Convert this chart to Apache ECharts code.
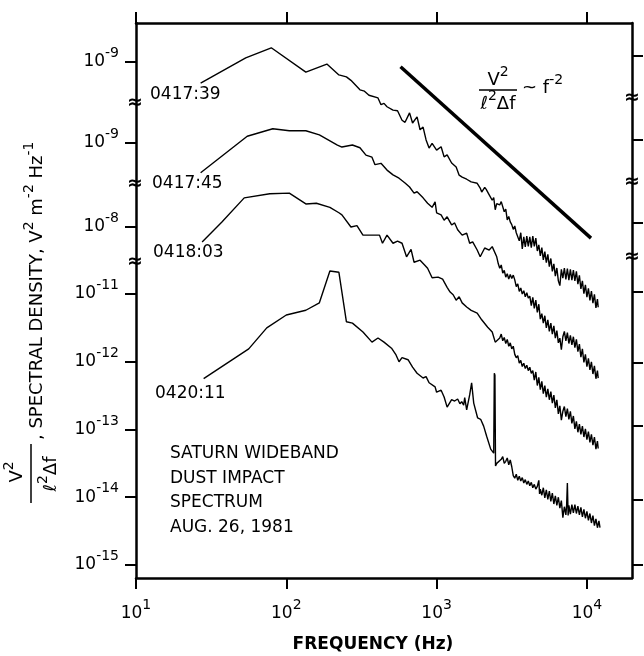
<!DOCTYPE html>
<html>
<head>
<meta charset="utf-8">
<script src="https://cdn.jsdelivr.net/npm/echarts@6/dist/echarts.min.js"></script>
<style>
  html, body { margin: 0; padding: 0; background: #fff; }
  #chart { width: 644px; height: 656px; }
</style>
</head>
<body>
<div id="chart"></div>
<script>
// readings, in decades: [log10 frequency (Hz), log10 V^2 m^-2 Hz^-1]
const spec041739 = [
  [1.43,-9.31],[1.73,-8.94],[1.90,-8.79],[2.13,-9.15],[2.27,-9.03],[2.35,-9.19],[2.40,-9.22],[2.43,-9.27],
  [2.49,-9.41],[2.52,-9.43],[2.55,-9.49],[2.61,-9.53],[2.63,-9.63],[2.65,-9.61],[2.67,-9.66],[2.71,-9.71],
  [2.74,-9.72],[2.77,-9.86],[2.79,-9.89],[2.82,-9.75],[2.84,-9.90],[2.87,-9.81],[2.89,-10.00],[2.91,-9.96],
  [2.93,-10.15],[2.95,-10.27],[2.97,-10.20],[3.00,-10.30],[3.03,-10.25],[3.05,-10.40],[3.07,-10.37],[3.10,-10.49],
  [3.13,-10.55],[3.15,-10.67],[3.17,-10.70],[3.20,-10.73],[3.23,-10.77],[3.27,-10.79],[3.29,-10.86],[3.30,-10.92],
  [3.32,-10.85],[3.33,-10.88],[3.35,-10.96],[3.37,-11.04],[3.38,-11.00],[3.39,-11.18],[3.40,-11.09],[3.42,-11.11],
  [3.43,-11.06],[3.45,-11.21],[3.46,-11.17],[3.47,-11.33],[3.48,-11.28],[3.49,-11.36],[3.50,-11.40],[3.51,-11.47],
  [3.52,-11.42],[3.53,-11.52],[3.54,-11.50],[3.55,-11.64],[3.56,-11.52],[3.57,-11.76],[3.58,-11.58],[3.59,-11.73],
  [3.60,-11.57],[3.61,-11.72],[3.62,-11.58],[3.63,-11.74],[3.64,-11.57],[3.65,-11.72],[3.66,-11.60],[3.67,-11.79],
  [3.68,-11.70],[3.69,-11.86],[3.70,-11.74],[3.71,-11.92],[3.72,-11.80],[3.73,-11.96],[3.74,-11.84],[3.75,-12.02],
  [3.76,-11.90],[3.77,-12.09],[3.78,-11.98],[3.79,-12.16],[3.80,-12.04],[3.81,-12.23],[3.82,-12.30],[3.83,-12.06],
  [3.84,-12.19],[3.85,-12.04],[3.86,-12.21],[3.87,-12.05],[3.88,-12.22],[3.89,-12.06],[3.90,-12.22],[3.91,-12.07],
  [3.92,-12.23],[3.93,-12.09],[3.94,-12.28],[3.95,-12.15],[3.96,-12.35],[3.97,-12.23],[3.98,-12.42],[3.99,-12.29],
  [4.00,-12.47],[4.01,-12.34],[4.02,-12.52],[4.03,-12.38],[4.04,-12.56],[4.05,-12.43],[4.06,-12.63],[4.07,-12.50],
  [4.075,-12.62]
];

const spec041745 = [
  [1.43,-9.44],[1.74,-8.90],[1.91,-8.79],[2.02,-8.82],[2.13,-8.82],[2.22,-8.88],[2.34,-9.03],[2.37,-9.06],
  [2.44,-9.03],[2.49,-9.07],[2.53,-9.18],[2.57,-9.21],[2.59,-9.32],[2.63,-9.30],[2.67,-9.40],[2.71,-9.47],
  [2.75,-9.52],[2.79,-9.59],[2.82,-9.65],[2.85,-9.74],[2.87,-9.72],[2.91,-9.81],[2.94,-9.89],[2.97,-9.95],
  [2.99,-9.87],[3.00,-10.03],[3.03,-10.06],[3.05,-10.14],[3.07,-10.09],[3.10,-10.21],[3.12,-10.18],[3.14,-10.28],
  [3.17,-10.36],[3.20,-10.33],[3.22,-10.48],[3.24,-10.46],[3.27,-10.58],[3.29,-10.68],[3.32,-10.55],[3.35,-10.58],
  [3.37,-10.53],[3.40,-10.68],[3.41,-10.78],[3.42,-10.85],[3.43,-10.80],[3.44,-10.92],[3.45,-10.88],[3.46,-10.98],
  [3.47,-10.93],[3.48,-11.01],[3.49,-10.94],[3.50,-11.00],[3.51,-10.95],[3.52,-11.02],[3.53,-11.12],[3.54,-11.08],
  [3.55,-11.19],[3.56,-11.14],[3.57,-11.23],[3.58,-11.18],[3.59,-11.27],[3.60,-11.21],[3.61,-11.29],[3.62,-11.26],
  [3.63,-11.40],[3.64,-11.28],[3.65,-11.44],[3.66,-11.32],[3.67,-11.50],[3.68,-11.38],[3.69,-11.60],[3.70,-11.52],
  [3.71,-11.66],[3.72,-11.55],[3.73,-11.73],[3.74,-11.61],[3.75,-11.78],[3.76,-11.66],[3.77,-11.82],[3.78,-11.70],
  [3.79,-11.88],[3.80,-11.77],[3.81,-11.95],[3.82,-11.88],[3.83,-12.05],[3.84,-11.86],[3.85,-11.78],[3.86,-11.92],
  [3.87,-11.80],[3.88,-11.96],[3.89,-11.84],[3.90,-11.98],[3.91,-11.86],[3.92,-12.02],[3.93,-11.90],[3.94,-12.08],
  [3.95,-11.97],[3.96,-12.16],[3.97,-12.04],[3.98,-12.24],[3.99,-12.12],[4.00,-12.30],[4.01,-12.18],[4.02,-12.35],
  [4.03,-12.23],[4.04,-12.41],[4.05,-12.29],[4.06,-12.48],[4.07,-12.36],[4.075,-12.47]
];

const spec041803 = [
  [1.44,-8.22],[1.57,-7.93],[1.72,-7.57],[1.89,-7.51],[2.02,-7.50],[2.13,-7.66],[2.20,-7.65],[2.29,-7.71],
  [2.35,-7.79],[2.37,-7.82],[2.43,-8.00],[2.47,-7.98],[2.51,-8.12],[2.62,-8.12],[2.64,-8.24],[2.67,-8.12],
  [2.71,-8.24],[2.74,-8.21],[2.77,-8.24],[2.80,-8.44],[2.83,-8.33],[2.85,-8.52],[2.89,-8.49],[2.92,-8.56],
  [2.94,-8.61],[2.97,-8.75],[3.01,-8.74],[3.04,-8.77],[3.07,-8.89],[3.09,-8.96],[3.11,-9.00],[3.13,-9.08],
  [3.15,-9.03],[3.17,-9.12],[3.20,-9.18],[3.23,-9.23],[3.27,-9.27],[3.30,-9.37],[3.34,-9.48],[3.37,-9.55],
  [3.39,-9.70],[3.42,-9.64],[3.43,-9.58],[3.44,-9.68],[3.45,-9.63],[3.46,-9.72],[3.47,-9.66],[3.48,-9.76],
  [3.49,-9.71],[3.50,-9.80],[3.51,-9.76],[3.52,-9.88],[3.53,-9.93],[3.54,-9.90],[3.55,-10.01],[3.56,-9.97],
  [3.57,-10.06],[3.58,-10.01],[3.59,-10.09],[3.60,-10.04],[3.61,-10.12],[3.62,-10.07],[3.63,-10.16],[3.64,-10.12],
  [3.65,-10.26],[3.66,-10.14],[3.67,-10.34],[3.68,-10.22],[3.69,-10.40],[3.70,-10.28],[3.71,-10.46],[3.72,-10.34],
  [3.73,-10.51],[3.74,-10.39],[3.75,-10.55],[3.76,-10.43],[3.77,-10.60],[3.78,-10.48],[3.79,-10.67],[3.80,-10.55],
  [3.81,-10.76],[3.82,-10.64],[3.83,-10.85],[3.84,-10.72],[3.85,-10.65],[3.86,-10.80],[3.87,-10.68],[3.88,-10.84],
  [3.89,-10.72],[3.90,-10.90],[3.91,-10.79],[3.92,-10.98],[3.93,-10.87],[3.94,-11.03],[3.95,-10.91],[3.96,-11.06],
  [3.97,-10.94],[3.98,-11.10],[3.99,-10.98],[4.00,-11.14],[4.01,-11.02],[4.02,-11.18],[4.03,-11.06],[4.04,-11.22],
  [4.05,-11.10],[4.06,-11.28],[4.07,-11.16],[4.075,-11.27]
];

const spec042011 = [
  [1.45,-12.25],[1.75,-11.81],[1.87,-11.50],[2.00,-11.31],[2.13,-11.24],[2.22,-11.13],[2.29,-10.66],[2.35,-10.68],
  [2.40,-11.41],[2.44,-11.43],[2.51,-11.56],[2.57,-11.71],[2.61,-11.65],[2.65,-11.71],[2.70,-11.80],[2.73,-11.90],
  [2.75,-12.00],[2.77,-11.94],[2.81,-11.97],[2.84,-12.08],[2.87,-12.17],[2.91,-12.24],[2.93,-12.22],[2.95,-12.31],
  [2.99,-12.37],[3.00,-12.45],[3.03,-12.42],[3.05,-12.52],[3.07,-12.67],[3.10,-12.56],[3.12,-12.58],[3.14,-12.55],
  [3.155,-12.62],[3.167,-12.59],[3.18,-12.64],[3.187,-12.53],[3.20,-12.71],[3.22,-12.49],[3.233,-12.31],[3.247,-12.61],
  [3.273,-12.83],[3.293,-12.85],[3.313,-12.95],[3.333,-13.10],[3.36,-13.29],[3.38,-13.35],[3.384,-12.17],[3.388,-12.20],
  [3.392,-13.54],[3.40,-13.50],[3.43,-13.44],[3.44,-13.40],[3.45,-13.50],[3.46,-13.47],[3.47,-13.42],[3.48,-13.52],
  [3.49,-13.45],[3.50,-13.55],[3.51,-13.68],[3.52,-13.72],[3.53,-13.66],[3.54,-13.75],[3.55,-13.69],[3.56,-13.76],
  [3.57,-13.71],[3.58,-13.79],[3.59,-13.74],[3.60,-13.81],[3.61,-13.76],[3.62,-13.83],[3.63,-13.78],[3.64,-13.86],
  [3.65,-13.81],[3.66,-13.88],[3.67,-13.84],[3.68,-13.75],[3.685,-13.95],[3.69,-13.88],[3.70,-13.97],[3.71,-13.86],
  [3.72,-14.01],[3.73,-13.89],[3.74,-14.03],[3.75,-13.91],[3.76,-14.06],[3.77,-13.94],[3.78,-14.10],[3.79,-13.98],
  [3.80,-14.12],[3.81,-14.00],[3.82,-14.16],[3.83,-14.05],[3.84,-14.30],[3.85,-14.14],[3.86,-14.26],[3.865,-14.12],
  [3.87,-13.79],[3.875,-14.27],[3.88,-14.12],[3.89,-14.25],[3.90,-14.11],[3.91,-14.23],[3.92,-14.11],[3.93,-14.24],
  [3.94,-14.13],[3.95,-14.26],[3.96,-14.15],[3.97,-14.29],[3.98,-14.18],[3.99,-14.31],[4.00,-14.21],[4.01,-14.34],
  [4.02,-14.24],[4.03,-14.38],[4.04,-14.27],[4.05,-14.42],[4.06,-14.32],[4.07,-14.45],[4.08,-14.35],[4.087,-14.45]
];

// f^-2 reference line, in the units of the 0417:39 scale
const slopeLine = [[2.76,-9.07],[4.027,-11.60]];

const curveNames = ["0417:39", "0417:45", "0418:03", "0420:11"];
const curves = [spec041739, spec041745, spec041803, spec042011];

// each curve has its own offset scale (broken axis); top of plot in decades
const axisTops = [-8.424, -7.229, -4.989, -7.0];
const plotDecades = 8.192;
const leftTickExps = [[-9], [-9], [-8], [-11, -12, -13, -14, -15]];
const rightTickExps = [-7.49, -8.73, -9.95, -10.96, -12.02, -12.95, -14.03, -15.0];
const freqExps = [1, 2, 3, 4];
const noteLines = ["SATURN WIDEBAND", "DUST IMPACT", "SPECTRUM", "AUG. 26, 1981"];

const FONT = "'DejaVu Sans', sans-serif";
const INK = "#000";

const rich = {
  b: { fontSize: 17, fontFamily: FONT, color: INK },
  s: { fontSize: 14, fontFamily: FONT, color: INK, padding: [0, 0, 17, 0] },
};
const richText = {
  b: { fontSize: 18, fontFamily: FONT, fill: INK },
  s: { fontSize: 14, fontFamily: FONT, fill: INK, padding: [0, 0, 16, 0] },
};
const pow10 = (v) => `{b|10}{s|${v}}`;

const axisLine = { show: true, onZero: false, lineStyle: { color: INK, width: 2.5 } };
const tickStyle = { color: INK, width: 2 };

const yAxes = axisTops.map((top, i) => ({
  type: "value",
  position: "left",
  min: top - plotDecades,
  max: top,
  axisLine: Object.assign({}, axisLine, { show: i === 3 }),
  axisTick: { show: true, length: 11, lineStyle: tickStyle, customValues: leftTickExps[i] },
  axisLabel: { customValues: leftTickExps[i], formatter: pow10, rich, margin: 17 },
  splitLine: { show: false },
}));
yAxes.push({
  type: "value",
  position: "right",
  min: axisTops[3] - plotDecades,
  max: axisTops[3],
  axisLine,
  axisTick: { show: true, length: 11, lineStyle: tickStyle, customValues: rightTickExps },
  axisLabel: { show: false },
  splitLine: { show: false },
});

const xBase = {
  type: "value",
  min: 1,
  max: 4.3,
  axisLine,
  axisTick: { show: true, length: 11, lineStyle: tickStyle, customValues: freqExps },
  splitLine: { show: false },
};

const txt = (x, y, text, extra) => ({
  type: "text", x, y, silent: true,
  style: Object.assign({ text, fill: INK, fontSize: 17, fontFamily: FONT, verticalAlign: "middle" }, extra),
});
const bar = (x1, y1, x2, y2, w) => ({
  type: "line", silent: true, shape: { x1, y1, x2, y2 }, style: { stroke: INK, lineWidth: w },
});
const brk = (x, y) => txt(x, y, "≈", { align: "center", fontSize: 19, fontWeight: "bold" });

const graphic = [
  txt(150, 95, curveNames[0]),
  txt(152, 184, curveNames[1]),
  txt(153, 253, curveNames[2]),
  txt(155, 394, curveNames[3]),
  txt(170, 454, noteLines[0]),
  txt(170, 479, noteLines[1]),
  txt(170, 503, noteLines[2]),
  txt(170, 528, noteLines[3]),
  // axis break marks
  brk(135, 103), brk(135, 184), brk(135, 262),
  brk(632, 98), brk(632, 182), brk(632, 257),
  // slope annotation
  txt(498, 80, "{b|V}{s|2}", { align: "center", rich: richText }),
  bar(479, 90, 517, 90, 1.5),
  txt(498, 104, "{b|ℓ}{s|2}{b|Δf}", { align: "center", rich: richText }),
  txt(522, 88, "{b|~ f}{s|-2}", { align: "left", rich: richText }),
  // y title
  Object.assign(txt(17, 472, "{b|V}{s|2}", { align: "center", rich: richText }), { rotation: Math.PI / 2 }),
  bar(31, 444, 31, 503, 1.5),
  Object.assign(txt(51, 474, "{b|ℓ}{s|2}{b|Δf}", { align: "center", rich: richText }), { rotation: Math.PI / 2 }),
  Object.assign(
    txt(37, 440, "{b|, SPECTRAL DENSITY, V}{s|2}{b| m}{s|-2}{b| Hz}{s|-1}", { align: "left", rich: richText }),
    { rotation: Math.PI / 2 }
  ),
  // x title
  txt(373, 645, "FREQUENCY (Hz)", { align: "center", fontSize: 17, fontWeight: "bold" }),
];

const series = curves.map((data, i) => ({
  name: curveNames[i],
  type: "line",
  xAxisIndex: 0,
  yAxisIndex: i,
  data,
  showSymbol: false,
  silent: true,
  lineStyle: { color: INK, width: 1.4 },
}));
series.push({
  type: "line",
  xAxisIndex: 0,
  yAxisIndex: 0,
  data: slopeLine,
  showSymbol: false,
  silent: true,
  lineStyle: { color: INK, width: 3.5 },
});

const chart = echarts.init(document.getElementById("chart"), null, { renderer: "canvas" });
chart.setOption({
  backgroundColor: "#fff",
  animation: false,
  textStyle: { fontFamily: FONT, color: INK },
  grid: { left: 136, right: 12, top: 23, bottom: 78, containLabel: false, outerBoundsMode: "none" },
  xAxis: [
    Object.assign({}, xBase, {
      position: "bottom",
      axisLabel: { customValues: freqExps, formatter: pow10, rich, margin: 20 },
    }),
    Object.assign({}, xBase, { position: "top", axisLabel: { show: false } }),
  ],
  yAxis: yAxes,
  series,
  graphic,
});
</script>
</body>
</html>
